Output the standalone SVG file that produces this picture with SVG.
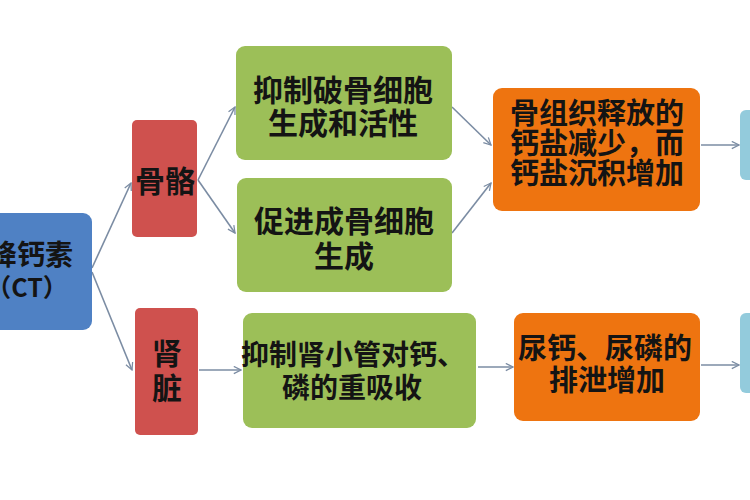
<svg xmlns="http://www.w3.org/2000/svg" width="750" height="500" viewBox="0 0 750 500">
<defs>
<marker id="arr" viewBox="0 0 10 10" refX="9" refY="5" markerWidth="9" markerHeight="9" markerUnits="userSpaceOnUse" orient="auto">
<path d="M1,1 L9,5 L1,9" fill="none" stroke="#7b8ca3" stroke-width="1.4"/>
</marker>
<style>
.t{font-family:"Noto Sans CJK SC","Noto Sans CJK JP",sans-serif;font-weight:bold;fill:#141414;text-anchor:middle;dominant-baseline:central}
.blue{fill:#4f81c4}
.red{fill:#cf514e}
.green{fill:#9cbf58}
.orange{fill:#ee7410}
.lblue{fill:#93cbdc}
.c{fill:none;stroke:#7b8ca3;stroke-width:1.6;marker-end:url(#arr)}
</style>
</defs>
<rect width="750" height="500" fill="#ffffff"/>
<g id="connectors">
<line class="c" x1="92" y1="268" x2="131" y2="183"/>
<line class="c" x1="92" y1="272" x2="132" y2="370"/>
<line class="c" x1="198" y1="180" x2="235" y2="107"/>
<line class="c" x1="198" y1="180" x2="235" y2="233"/>
<line class="c" x1="199" y1="370" x2="241" y2="370"/>
<line class="c" x1="452" y1="107" x2="491" y2="145"/>
<line class="c" x1="452" y1="233" x2="491" y2="183"/>
<line class="c" x1="478" y1="367" x2="513" y2="367"/>
<line class="c" x1="701" y1="145" x2="739" y2="145"/>
<line class="c" x1="701" y1="365" x2="739" y2="365"/>
</g>
<g id="ct">
<rect class="blue" x="-20" y="213" width="112" height="117" rx="9"/>
<text class="t" x="31" y="253" font-size="28">降钙素</text>
<text class="t" x="27" y="286" font-size="25">（CT）</text>
</g>
<g id="bone">
<rect class="red" x="132" y="120" width="65" height="117" rx="5"/>
<text class="t" x="165" y="179" font-size="30">骨骼</text>
</g>
<g id="kidney">
<rect class="red" x="135" y="308" width="63" height="127" rx="5"/>
<text class="t" x="167" y="351" font-size="30">肾</text>
<text class="t" x="167" y="386" font-size="30">脏</text>
</g>
<g id="g1">
<rect class="green" x="236" y="46" width="216" height="114" rx="9"/>
<text class="t" x="343" y="88" font-size="30">抑制破骨细胞</text>
<text class="t" x="343" y="121" font-size="30">生成和活性</text>
</g>
<g id="g2">
<rect class="green" x="237" y="178" width="215" height="114" rx="9"/>
<text class="t" x="344" y="219" font-size="30">促进成骨细胞</text>
<text class="t" x="344" y="254" font-size="30">生成</text>
</g>
<g id="g3">
<rect class="green" x="243" y="313" width="233" height="115" rx="9"/>
<text class="t" x="353" y="353" font-size="28">抑制肾小管对钙、</text>
<text class="t" x="352" y="386" font-size="28">磷的重吸收</text>
</g>
<g id="o1">
<rect class="orange" x="493" y="88" width="207" height="123" rx="9"/>
<text class="t" x="597" y="111" font-size="29">骨组织释放的</text>
<text class="t" x="597" y="141" font-size="29">钙盐减少，而</text>
<text class="t" x="597" y="171" font-size="29">钙盐沉积增加</text>
</g>
<g id="o2">
<rect class="orange" x="514" y="313" width="186" height="108" rx="9"/>
<text class="t" x="605" y="346" font-size="29">尿钙、尿磷的</text>
<text class="t" x="607" y="378" font-size="29">排泄增加</text>
</g>
<g id="b1">
<rect class="lblue" x="740" y="110" width="30" height="70" rx="6"/>
</g>
<g id="b2">
<rect class="lblue" x="740" y="313" width="30" height="80" rx="6"/>
</g>
</svg>
